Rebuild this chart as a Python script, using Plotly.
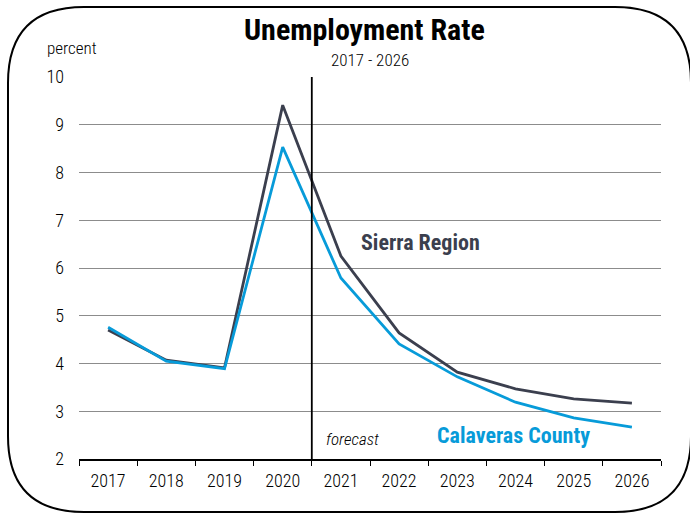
import plotly.graph_objects as go

years = ["2017", "2018", "2019", "2020", "2021", "2022", "2023", "2024", "2025", "2026"]
sierra = [4.70, 4.07, 3.91, 9.41, 6.25, 4.64, 3.82, 3.47, 3.26, 3.17]
calaveras = [4.76, 4.05, 3.89, 8.53, 5.79, 4.41, 3.72, 3.19, 2.86, 2.67]
forecast_start = "2021"
y_ticks = [2, 3, 4, 5, 6, 7, 8, 9, 10]

FONT = "Roboto Condensed, Liberation Sans Narrow, Arial Narrow, sans-serif"
DARK = "#3b3f4e"
BLUE = "#079bd9"

W, H = 690, 514
L, R, T, B = 79, 29, 77, 55
pw, ph = W - L - R, H - T - B

def px(x):
    return (x - L) / pw

def py(y):
    return (H - B - y) / ph

fig = go.Figure()
fig.add_trace(go.Scatter(x=years, y=sierra, mode="lines", line=dict(color=DARK, width=2.8),
                         name="Sierra Region", showlegend=False, hoverinfo="x+y"))
fig.add_trace(go.Scatter(x=years, y=calaveras, mode="lines", line=dict(color=BLUE, width=2.8),
                         name="Calaveras County", showlegend=False, hoverinfo="x+y"))

fx = years.index(forecast_start) - 0.5
fig.add_shape(type="line", xref="x", yref="y", x0=fx, x1=fx, y0=min(y_ticks), y1=max(y_ticks),
              line=dict(color="black", width=1.8), layer="above")

# rounded frame around the figure
l, t, r, b, rad = 8, 7, 691, 512, 76
def P(x, y):
    return f"{px(x):.5f},{py(y):.5f}"
path = (f"M {P(l + rad, t)} L {P(r - rad, t)} Q {P(r, t)} {P(r, t + rad)} "
        f"L {P(r, b - rad)} Q {P(r, b)} {P(r - rad, b)} "
        f"L {P(l + rad, b)} Q {P(l, b)} {P(l, b - rad)} "
        f"L {P(l, t + rad)} Q {P(l, t)} {P(l + rad, t)} Z")
fig.add_shape(type="path", xref="paper", yref="paper", path=path,
              line=dict(color="black", width=2), fillcolor="rgba(0,0,0,0)", layer="above")

ann = [
    dict(text="<b>Unemployment Rate</b>", x=px(364), y=py(29), size=30, color="black", weight=None),
    dict(text="2017 - 2026", x=px(370), y=py(60), size=17, color="black", weight=300),
    dict(text="percent", x=px(72), y=py(48), size=17, color="black", weight=300),
    dict(text="<b>Sierra Region</b>", x=px(420), y=py(243), size=22, color=DARK, weight=None),
    dict(text="<b>Calaveras County</b>", x=px(513), y=py(435), size=22, color=BLUE, weight=None),
    dict(text="<i>forecast</i>", x=px(352), y=py(439), size=17, color="black", weight=300),
]
for a in ann:
    f = dict(family=FONT, size=a["size"], color=a["color"])
    if a["weight"]:
        f["weight"] = a["weight"]
    fig.add_annotation(text=a["text"], x=a["x"], y=a["y"], xref="paper", yref="paper",
                       showarrow=False, xanchor="center", yanchor="middle", font=f)

fig.update_layout(
    width=W, height=H,
    margin=dict(l=L, r=R, t=T, b=B),
    paper_bgcolor="white", plot_bgcolor="white",
    font=dict(family=FONT, size=17, color="black"),
    showlegend=False,
    xaxis=dict(type="category", tickson="boundaries", ticks="outside", ticklen=5,
               tickcolor="black", tickwidth=1.2, showline=True, linecolor="black", linewidth=1.5,
               showgrid=False, tickfont=dict(size=18, weight=300), ticklabelstandoff=5,
               range=[-0.5, len(years) - 0.5]),
    yaxis=dict(range=[min(y_ticks), max(y_ticks)], tickvals=y_ticks, showgrid=True,
               gridcolor="#8c8c8c", gridwidth=1, zeroline=False, showline=False, ticks="",
               tickfont=dict(size=18, weight=300), ticklabelstandoff=14),
)

fig.write_html("out.html", config={"displayModeBar": False},
               post_script="document.body.style.margin='0';document.body.style.overflow='hidden';")
